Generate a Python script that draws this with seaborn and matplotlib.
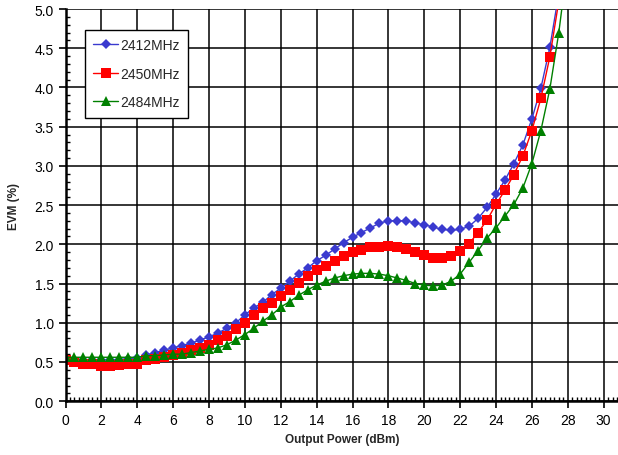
import pandas as pd
import matplotlib
matplotlib.use("Agg")
import matplotlib.pyplot as plt
from matplotlib.ticker import MultipleLocator, FormatStrFormatter
import seaborn as sns

# output power (dBm), one point every 0.5 dBm
power = [0, 0.5, 1, 1.5, 2, 2.5, 3, 3.5, 4, 4.5,
         5, 5.5, 6, 6.5, 7, 7.5, 8, 8.5, 9, 9.5,
         10, 10.5, 11, 11.5, 12, 12.5, 13, 13.5, 14, 14.5,
         15, 15.5, 16, 16.5, 17, 17.5, 18, 18.5, 19, 19.5,
         20, 20.5, 21, 21.5, 22, 22.5, 23, 23.5, 24, 24.5,
         25, 25.5, 26, 26.5, 27, 27.5, 28]

evm_2412 = [0.53, 0.53, 0.53, 0.53, 0.53, 0.53, 0.53, 0.54, 0.55, 0.59,
            0.62, 0.65, 0.68, 0.71, 0.74, 0.78, 0.82, 0.87, 0.93, 1.00,
            1.10, 1.19, 1.26, 1.36, 1.44, 1.53, 1.62, 1.70, 1.79, 1.86,
            1.94, 2.02, 2.09, 2.15, 2.21, 2.27, 2.30, 2.30, 2.30, 2.27,
            2.25, 2.22, 2.19, 2.18, 2.19, 2.23, 2.33, 2.47, 2.64, 2.82,
            3.03, 3.27, 3.60, 3.99, 4.51, 5.20]

evm_2450 = [0.53, 0.50, 0.48, 0.47, 0.45, 0.45, 0.46, 0.47, 0.48, 0.52,
            0.54, 0.56, 0.59, 0.62, 0.65, 0.68, 0.72, 0.78, 0.83, 0.92,
            1.00, 1.10, 1.19, 1.25, 1.34, 1.42, 1.51, 1.59, 1.67, 1.73,
            1.79, 1.85, 1.90, 1.93, 1.96, 1.97, 1.98, 1.97, 1.94, 1.90,
            1.86, 1.83, 1.83, 1.85, 1.91, 2.01, 2.15, 2.31, 2.51, 2.69,
            2.89, 3.13, 3.45, 3.86, 4.39, 5.10]

evm_2484 = [0.56, 0.56, 0.56, 0.56, 0.56, 0.56, 0.56, 0.56, 0.56, 0.58,
            0.58, 0.59, 0.60, 0.60, 0.62, 0.64, 0.66, 0.68, 0.72, 0.78,
            0.85, 0.93, 1.02, 1.10, 1.20, 1.27, 1.35, 1.42, 1.48, 1.53,
            1.57, 1.60, 1.62, 1.63, 1.63, 1.62, 1.60, 1.57, 1.54, 1.50,
            1.48, 1.47, 1.48, 1.53, 1.62, 1.77, 1.92, 2.08, 2.21, 2.36,
            2.51, 2.72, 3.03, 3.45, 3.98, 4.70, 5.60]

sns.set_style("ticks")
plt.rcParams['font.family'] = ['Liberation Sans', 'DejaVu Sans']

fig = plt.figure(figsize=(6.18, 4.56), dpi=100)
ax = fig.add_axes([0.106, 0.118, 0.894, 0.860])

series = [
    ("2412MHz", evm_2412, "#3A3ACF", "D", 5),
    ("2450MHz", evm_2450, "#FF0000", "s", 7),
    ("2484MHz", evm_2484, "#008000", "^", 7),
]
for label, vals, color, marker, ms in series:
    df = pd.DataFrame({"power": power[:len(vals)], "evm": vals})
    sns.lineplot(data=df, x="power", y="evm", ax=ax, color=color, marker=marker,
                 markersize=ms, markeredgewidth=0, linewidth=1.0, label=label)

ax.set_xlim(0, 30.8)
ax.set_ylim(0, 5.0)
ax.xaxis.set_major_locator(MultipleLocator(2))
ax.xaxis.set_minor_locator(MultipleLocator(0.25))
ax.yaxis.set_major_locator(MultipleLocator(0.5))
ax.yaxis.set_minor_locator(MultipleLocator(0.1))
ax.yaxis.set_major_formatter(FormatStrFormatter("%.1f"))

ax.grid(True, which="major", color="black", linewidth=1.1)
ax.set_axisbelow(True)
for side in ["top", "right"]:
    ax.spines[side].set_visible(False)
for side in ["left", "bottom"]:
    ax.spines[side].set_linewidth(1.8)
    ax.spines[side].set_color("black")

ax.tick_params(which="major", direction="out", length=5, width=1.2, labelsize=10, colors="black")
ax.tick_params(which="minor", direction="in", length=3, width=1.0, colors="black")

ax.set_xlabel("Output Power (dBm)", fontsize=8.5, fontweight="bold", labelpad=4)
ax.set_ylabel("EVM (%)", fontsize=8.5, fontweight="bold", labelpad=10)

leg = ax.legend(loc="upper left", bbox_to_anchor=(0.035, 0.947), borderaxespad=0,
                fontsize=10, frameon=True, fancybox=False, framealpha=1,
                edgecolor="black", labelspacing=1.05, handlelength=1.8,
                handletextpad=0.15, borderpad=0.6)
leg.get_frame().set_linewidth(1.0)

fig.savefig("out.png", dpi=100)
